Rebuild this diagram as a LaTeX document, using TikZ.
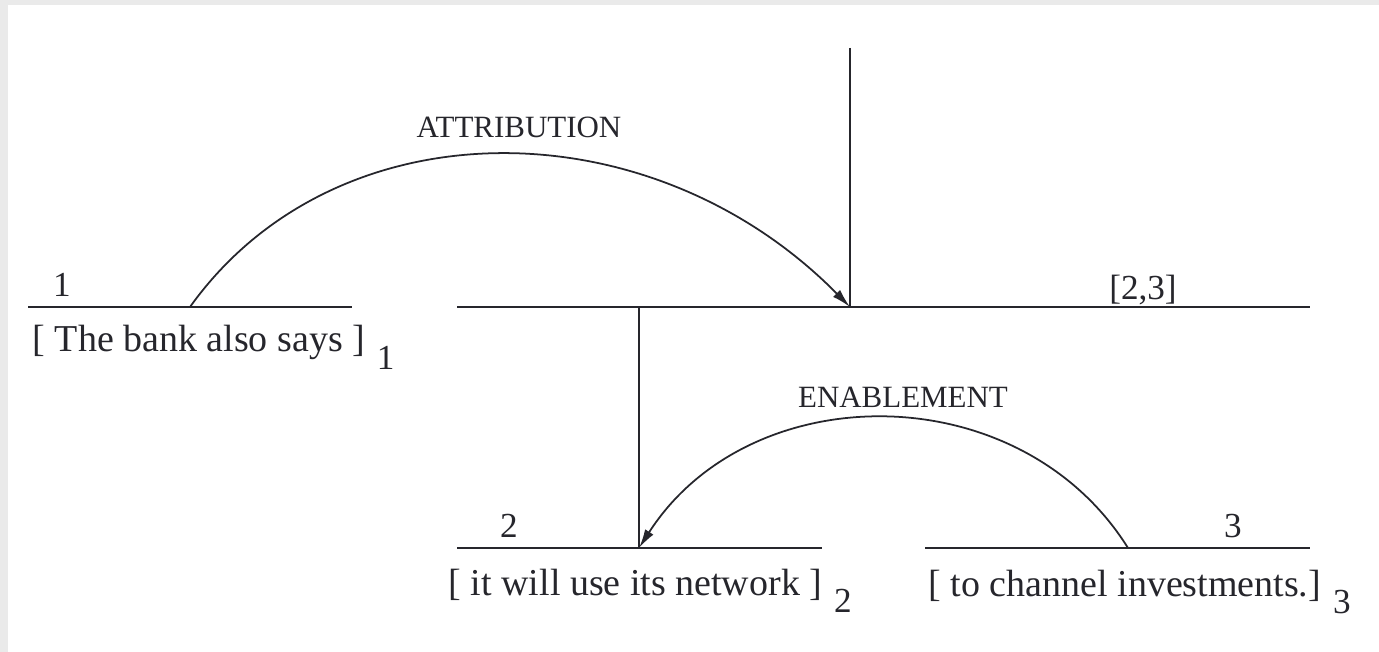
\documentclass[tikz,border=0pt]{standalone}
\usepackage{fontspec}
\setmainfont{Liberation Serif}
\definecolor{ink}{RGB}{38,38,44}
\definecolor{frame}{RGB}{234,234,234}
\usetikzlibrary{arrows.meta}
\newcommand\segsub[1]{\hspace{3.4pt}\raisebox{-5.1pt}{\fontsize{10}{12}\selectfont #1}}

\begin{document}
\begin{tikzpicture}[x=0.01cm, y=-0.01cm,
    span/.style={ink, line width=0.65pt},
    rel/.style={ink, line width=0.5pt, -{Latex[length=5.4pt,width=2.8pt]}},
    segtext/.style={font=\fontsize{10.8}{13}\selectfont, text=ink, anchor=base west, inner sep=0pt},
    idx/.style={font=\fontsize{10}{12}\selectfont, text=ink, anchor=base, inner sep=0pt},
    rellabel/.style={font=\fontsize{8.8}{11}\selectfont, text=ink, anchor=base, inner sep=0pt}]
  % page and frame
  \fill[frame] (0,0) rectangle (1379,652);
  \fill[white] (8,5) rectangle (1379,652);
  \useasboundingbox (0,0) rectangle (1379,652);

  % span end points
  \coordinate (s1w) at (28,307);   \coordinate (s1e) at (352,307);
  \coordinate (s23w) at (457,307); \coordinate (s23e) at (1310,307);
  \coordinate (s2w) at (457,548);  \coordinate (s2e) at (822,548);
  \coordinate (s3w) at (925,548);  \coordinate (s3e) at (1310,548);
  \coordinate (root) at (850,48);
  \coordinate (nuc23) at (850,307);
  \coordinate (nuc2top) at (639,307);
  \coordinate (nuc2) at (639,548);
  \coordinate (att) at (190,307);
  \coordinate (enb) at (1128,548);

  % spans
  \draw[span] (s1w) -- (s1e);
  \draw[span] (s23w) -- (s23e);
  \draw[span] (s2w) -- (s2e);
  \draw[span] (s3w) -- (s3e);
  \draw[span] (root) -- (nuc23);
  \draw[span] (nuc2top) -- (nuc2);

  % relations
  \draw[rel] (att) .. controls (335,104) and (650,104) .. (nuc23);
  \draw[rel] (enb) .. controls (1020,375) and (750,375) .. (nuc2);
  \node[rellabel] (attlab) at (519,138) {ATTRIBUTION};
  \node[rellabel] (enblab) at (903,407) {ENABLEMENT};

  % span numbers
  \node[idx] (n1) at (62,297) {1};
  \node[idx] (n23) at (1143,300) {[2,3]};
  \node[idx] (n2) at (509,537) {2};
  \node[idx] (n3) at (1233,537) {3};

  % segments
  \node[segtext] (seg1) at (32,352) {[ The bank also says ]\segsub{1}};
  \node[segtext] (seg2) at (448,595) {[ it will use its network ]\segsub{2}};
  \node[segtext] (seg3) at (928,596) {[ to channel investments.]\segsub{3}};
\end{tikzpicture}
\end{document}
